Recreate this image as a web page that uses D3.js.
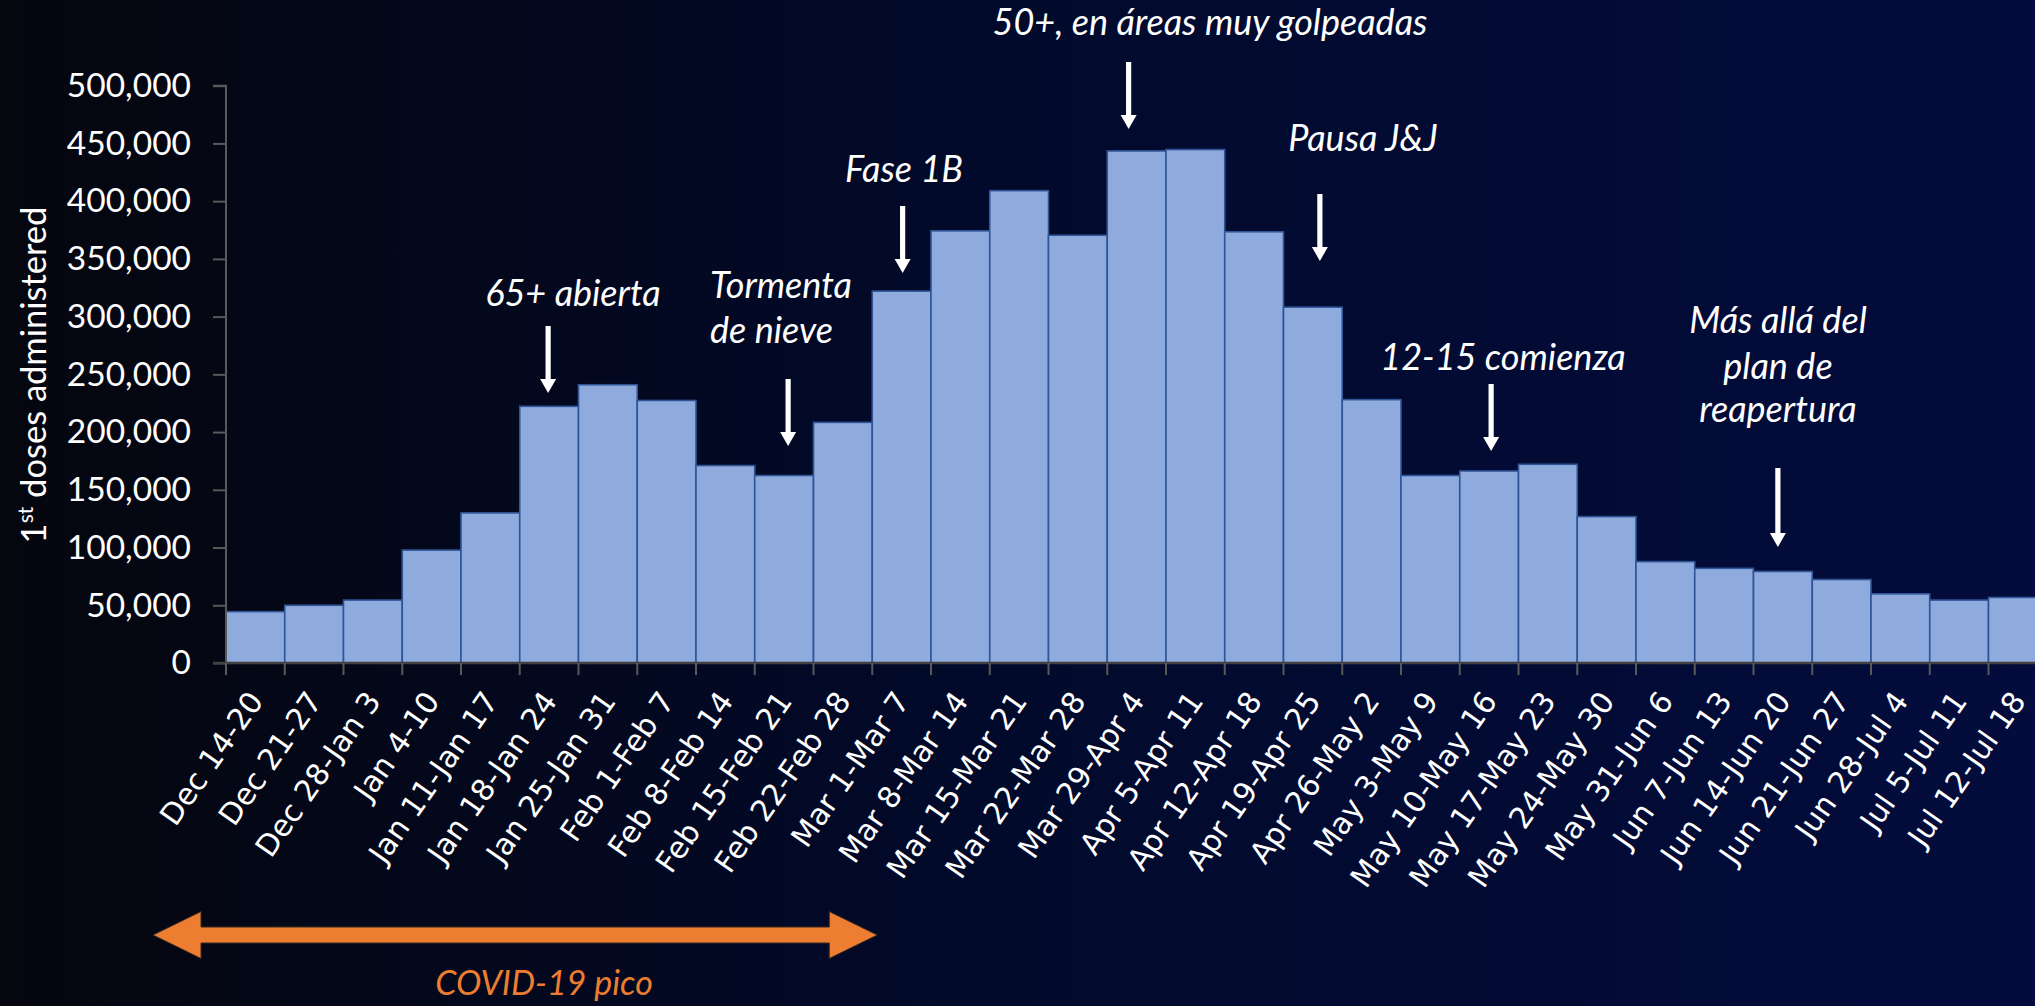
<!DOCTYPE html>
<html>
<head>
<meta charset="utf-8">
<script src="https://cdn.jsdelivr.net/npm/d3@7"></script>
<style>
  html, body { margin: 0; padding: 0; background: #05060f; overflow: hidden; }
  svg { display: block; }
</style>
</head>
<body>
<svg id="chart" width="2035" height="1006"></svg>
<script>
// ---------------- DATA ----------------
const categories = [
  "Dec 14-20", "Dec 21-27", "Dec 28-Jan 3", "Jan 4-10", "Jan 11-Jan 17",
  "Jan 18-Jan 24", "Jan 25-Jan 31", "Feb 1-Feb 7", "Feb 8-Feb 14", "Feb 15-Feb 21",
  "Feb 22-Feb 28", "Mar 1-Mar 7", "Mar 8-Mar 14", "Mar 15-Mar 21", "Mar 22-Mar 28",
  "Mar 29-Apr 4", "Apr 5-Apr 11", "Apr 12-Apr 18", "Apr 19-Apr 25", "Apr 26-May 2",
  "May 3-May 9", "May 10-May 16", "May 17-May 23", "May 24-May 30", "May 31-Jun 6",
  "Jun 7-Jun 13", "Jun 14-Jun 20", "Jun 21-Jun 27", "Jun 28-Jul 4", "Jul 5-Jul 11",
  "Jul 12-Jul 18"
];
const firstDoses = [
  44500, 50000, 54500, 97800, 130000,
  222300, 241000, 227400, 171000, 162400,
  208400, 322100, 374300, 409100, 370500,
  443500, 444700, 373500, 308200, 228100,
  162400, 166300, 172100, 126800, 87800,
  82000, 79300, 72300, 59900, 54500,
  56800
];
const yTicks = [0, 50000, 100000, 150000, 200000, 250000, 300000, 350000, 400000, 450000, 500000];
const yAxisTitle = "doses administered";

const annotationTexts = [
  ["65+ abierta"],
  ["Tormenta", "de nieve"],
  ["Fase 1B"],
  ["50+, en áreas muy golpeadas"],
  ["Pausa J&J"],
  ["12-15 comienza"],
  ["Más allá del", "plan de", "reapertura"]
];
const annotationCategories = [
  "Jan 18-Jan 24", "Feb 15-Feb 21", "Mar 1-Mar 7", "Mar 29-Apr 4",
  "Apr 19-Apr 25", "May 10-May 16", "Jun 14-Jun 20"
];
const peakLabel = "COVID-19 pico";
const peakRange = ["Dec 14-20", "Feb 22-Feb 28"];

// ---------------- LAYOUT ----------------
const W = 2035, H = 1006;
const axisX = 226, axisY = 663, topY = 85.7;
const band = 58.75;

const svg = d3.select("#chart");
const defs = svg.append("defs");
const grad = defs.append("linearGradient").attr("id", "bg").attr("x1", "0").attr("x2", "1").attr("y1", "0").attr("y2", "0");
grad.append("stop").attr("offset", "0%").attr("stop-color", "#05060e");
grad.append("stop").attr("offset", "50%").attr("stop-color", "#020a2c");
grad.append("stop").attr("offset", "100%").attr("stop-color", "#030c3c");
svg.append("rect").attr("width", W).attr("height", H).attr("fill", "url(#bg)");

const x = d3.scaleBand().domain(categories).range([axisX, axisX + band * categories.length]).padding(0);
const y = d3.scaleLinear().domain([0, 500000]).range([axisY, topY]);

// bars
svg.append("g").selectAll("rect")
  .data(categories.map((c, i) => ({ c, v: firstDoses[i] })))
  .join("rect")
  .attr("x", d => x(d.c))
  .attr("y", d => y(d.v))
  .attr("width", x.bandwidth())
  .attr("height", d => y(0) - y(d.v))
  .attr("fill", "#8faadc")
  .attr("stroke", "#2f5597")
  .attr("stroke-width", 1.6);

// y axis
const yAxis = d3.axisLeft(y).tickValues(yTicks).tickFormat(d3.format(",")).tickSize(13).tickPadding(22);
const gy = svg.append("g").attr("transform", `translate(${axisX},0)`).call(yAxis);
gy.select(".domain").attr("stroke", "#595959").attr("stroke-width", 2).attr("d", `M-13,${topY}H0V${axisY}`);
gy.selectAll(".tick line").attr("stroke", "#595959").attr("stroke-width", 2);
gy.selectAll(".tick text").attr("fill", "#ffffff").attr("font-family", "Lato, sans-serif").attr("font-size", 33.5);

// x axis
const xAxis = d3.axisBottom(x).tickSize(0).tickPadding(0);
const gx = svg.append("g").attr("transform", `translate(0,${axisY})`).call(xAxis);
gx.attr("font-family", "'DejaVu Sans', sans-serif");
gx.select(".domain").attr("stroke", "#404040").attr("stroke-width", 2.6).attr("d", `M${axisX - 13},0H${W}`);
gx.append("g").selectAll("line")
  .data(categories)
  .join("line")
  .attr("x1", d => x(d)).attr("x2", d => x(d))
  .attr("y1", 0).attr("y2", 12)
  .attr("stroke", "#595959").attr("stroke-width", 2);
gx.selectAll(".tick text")
  .attr("fill", "#ffffff")
  .attr("font-family", "'DejaVu Sans', sans-serif")
  .attr("font-size", 30)
  .attr("text-anchor", "end")
  .attr("y", 0)
  .attr("dy", 0)
  .attr("transform", "translate(9,38) rotate(-55)");

// y axis title
const yt = svg.append("text")
  .attr("transform", `translate(46,375) rotate(-90)`)
  .attr("text-anchor", "middle")
  .attr("fill", "#ffffff")
  .attr("font-family", "Lato, sans-serif")
  .attr("font-size", 34.5);
yt.append("tspan").text("1");
yt.append("tspan").text("st").attr("font-size", 21).attr("dy", -13);
yt.append("tspan").text(" " + yAxisTitle).attr("dy", 13);

// annotations
const annLayout = [
  { tx: 573, ty: [306], anchor: "middle", dx: -1, top: 326, tip: 393 },
  { tx: 710, ty: [298, 343], anchor: "start", dx: 4, top: 379, tip: 446 },
  { tx: 904, ty: [182], anchor: "middle", dx: 1, top: 206, tip: 273 },
  { tx: 1210, ty: [35], anchor: "middle", dx: -8, top: 62, tip: 129 },
  { tx: 1363, ty: [151], anchor: "middle", dx: 7, top: 194, tip: 261 },
  { tx: 1503, ty: [370], anchor: "middle", dx: 2, top: 384, tip: 451 },
  { tx: 1778, ty: [333, 379, 422], anchor: "middle", dx: -5, top: 468, tip: 547 }
];
const ann = svg.append("g");
annotationTexts.forEach((lines, i) => {
  const L = annLayout[i];
  lines.forEach((t, j) => {
    ann.append("text")
      .attr("x", L.tx).attr("y", L.ty[j])
      .attr("text-anchor", L.anchor)
      .attr("fill", "#ffffff")
      .attr("font-family", "Lato, sans-serif")
      .attr("font-style", "italic")
      .attr("font-size", 36)
      .text(t);
  });
  const ax = x(annotationCategories[i]) + x.bandwidth() / 2 + L.dx;
  const sw = 2.6, hw = 8, hl = 14;
  const p = d3.path();
  p.moveTo(ax - sw, L.top);
  p.lineTo(ax + sw, L.top);
  p.lineTo(ax + sw, L.tip - hl);
  p.lineTo(ax + hw, L.tip - hl);
  p.lineTo(ax, L.tip);
  p.lineTo(ax - hw, L.tip - hl);
  p.lineTo(ax - sw, L.tip - hl);
  p.closePath();
  ann.append("path").attr("d", p.toString()).attr("fill", "#ffffff");
});

// COVID peak double arrow
const x0 = x(peakRange[0]) - 73, x1 = x(peakRange[1]) + x.bandwidth() + 5;
const cy = 935, shaft = 8, headH = 23.5, headL = 48;
const pa = d3.path();
pa.moveTo(x0, cy);
pa.lineTo(x0 + headL, cy - headH);
pa.lineTo(x0 + headL, cy - shaft);
pa.lineTo(x1 - headL, cy - shaft);
pa.lineTo(x1 - headL, cy - headH);
pa.lineTo(x1, cy);
pa.lineTo(x1 - headL, cy + headH);
pa.lineTo(x1 - headL, cy + shaft);
pa.lineTo(x0 + headL, cy + shaft);
pa.lineTo(x0 + headL, cy + headH);
pa.closePath();
svg.append("path").attr("d", pa.toString()).attr("fill", "#ed7d31").attr("stroke", "#3b2a22").attr("stroke-width", 1);

svg.append("text")
  .attr("x", 544).attr("y", 995)
  .attr("text-anchor", "middle")
  .attr("fill", "#ed7d31")
  .attr("font-family", "Lato, sans-serif")
  .attr("font-style", "italic")
  .attr("font-size", 34)
  .text(peakLabel);
</script>
</body>
</html>
